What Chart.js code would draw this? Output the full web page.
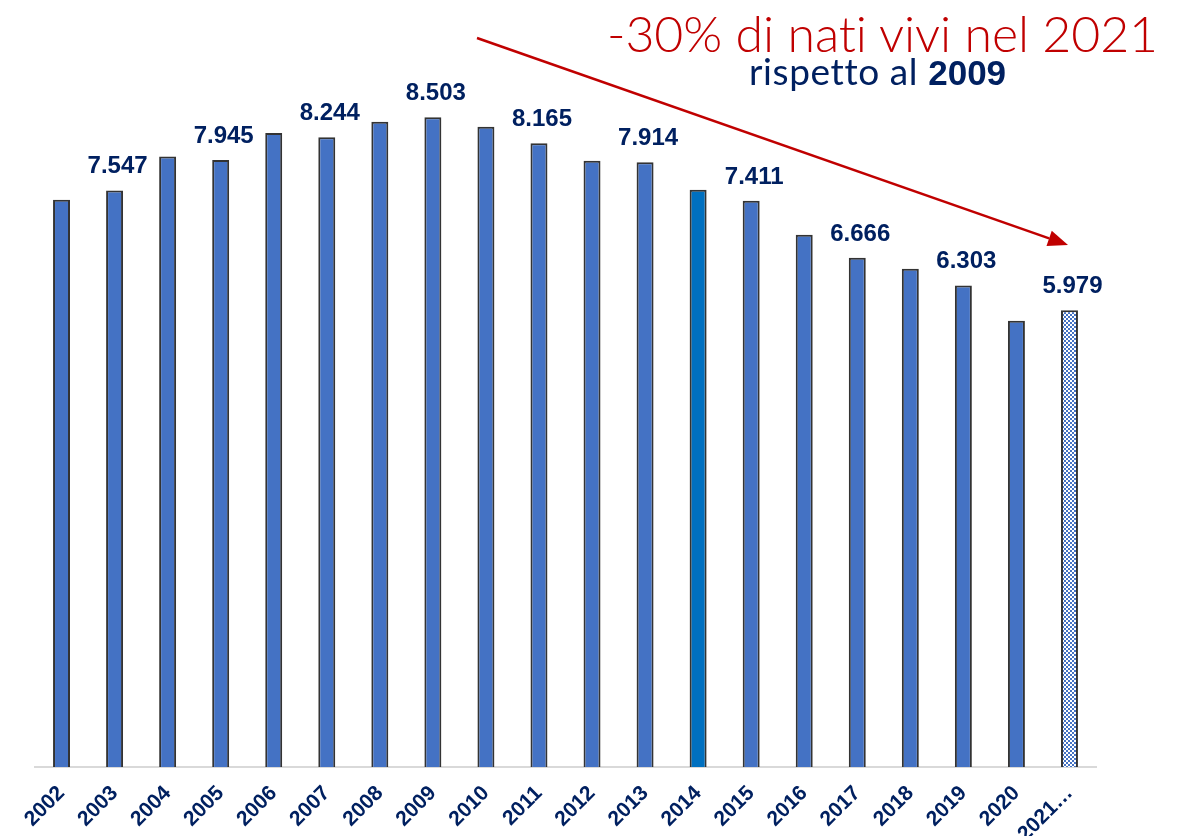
<!DOCTYPE html>
<html lang="it">
<head>
    <meta charset="UTF-8">
    <title>Nati vivi 2002-2021</title>
    <script src="https://cdn.jsdelivr.net/npm/chart.js"></script>
    <style>
        body {
            margin: 0;
            background: #ffffff;
        }
        .wrap {
            position: relative;
            width: 1181px;
            height: 836px;
        }
        .headline {
            position: absolute;
            font-family: "Lato", "DejaVu Sans", sans-serif;
            white-space: nowrap;
        }
        #title1 {
            top: 3px;
            left: 607px;
            font-size: 50px;
            font-weight: 300;
            color: #c00000;
            letter-spacing: -0.1px;
        }
        #title2 {
            top: 48px;
            left: 749px;
            font-size: 37px;
            font-weight: 400;
            color: #002060;
            letter-spacing: 0.6px;
        }
        #title2 b {
            font-family: "Liberation Sans", Arial, sans-serif;
            font-weight: 700;
            font-size: 35px;
            letter-spacing: 0;
        }
    </style>
</head>
<body>
<div class="wrap">
    <canvas id="births"></canvas>
    <div class="headline" id="title1">-30% di nati vivi nel 2021</div>
    <div class="headline" id="title2">rispetto al <b>2009</b></div>
</div>

<script>
    // years on the x axis (last one is cut in the original)
    const years = ['2002', '2003', '2004', '2005', '2006', '2007', '2008', '2009', '2010', '2011',
                   '2012', '2013', '2014', '2015', '2016', '2017', '2018', '2019', '2020', '2021…'];

    // nati vivi per anno (labelled ones are exact, the rest)
    const births = [7425, 7547, 7990, 7945, 8300, 8244, 8447, 8503, 8381, 8165,
                    7936, 7914, 7556, 7411, 6967, 6666, 6522, 6303, 5841, 5979];

    // which bars carry a value label
    const labelled = ['2003', '2005', '2007', '2009', '2011', '2013', '2015', '2017', '2019', '2021…'];

    const navy = '#002060';
    const barBlue = '#4472C4';

    // checkered fill for the 2021 (provisional) bar
    function checker() {
        const c = document.createElement('canvas');
        c.width = 4; c.height = 4;
        const g = c.getContext('2d');
        g.fillStyle = '#ffffff';
        g.fillRect(0, 0, 4, 4);
        g.fillStyle = barBlue;
        g.fillRect(0, 0, 2, 2);
        g.fillRect(2, 2, 2, 2);
        return g.createPattern(c, 'repeat');
    }

    const colors = years.map(y => {
        if (y === '2014') return '#0070C0';
        if (y === '2021…') return checker();
        return barBlue;
    });

    function fmt(v) {
        return String(v).replace(/\B(?=(\d{3})+(?!\d))/g, '.');
    }

    // value labels above the odd years
    const valueLabels = {
        id: 'valueLabels',
        afterDatasetsDraw(chart) {
            const ctx = chart.ctx;
            const meta = chart.getDatasetMeta(0);
            ctx.save();
            ctx.font = 'bold 24px "Liberation Sans", Arial, sans-serif';
            ctx.fillStyle = navy;
            ctx.textAlign = 'center';
            ctx.textBaseline = 'alphabetic';
            meta.data.forEach((bar, i) => {
                if (!labelled.includes(years[i])) return;
                ctx.fillText(fmt(births[i]), bar.x + 3, bar.y - 17);
            });
            ctx.restore();
        }
    };

    // red trend arrow from the top towards the 2021 bar
    const trendArrow = {
        id: 'trendArrow',
        afterDraw(chart) {
            const ctx = chart.ctx;
            const x0 = 477, y0 = 38, x1 = 1068, y1 = 245;
            const ang = Math.atan2(y1 - y0, x1 - x0);
            const head = 20, half = 8;
            ctx.save();
            ctx.strokeStyle = '#c00000';
            ctx.fillStyle = '#c00000';
            ctx.lineWidth = 2.5;
            ctx.beginPath();
            ctx.moveTo(x0, y0);
            ctx.lineTo(x1 - head * Math.cos(ang), y1 - head * Math.sin(ang));
            ctx.stroke();
            ctx.beginPath();
            ctx.moveTo(x1, y1);
            ctx.lineTo(x1 - head * Math.cos(ang) + half * Math.sin(ang), y1 - head * Math.sin(ang) - half * Math.cos(ang));
            ctx.lineTo(x1 - head * Math.cos(ang) - half * Math.sin(ang), y1 - head * Math.sin(ang) + half * Math.cos(ang));
            ctx.closePath();
            ctx.fill();
            ctx.restore();
        }
    };

    const canvas = document.getElementById('births');

    new Chart(canvas, {
        type: 'bar',
        data: {
            labels: years,
            datasets: [{
                label: 'Nati vivi',
                data: births,
                backgroundColor: colors,
                borderColor: '#333333',
                borderWidth: 2,
                borderSkipped: 'bottom',
                barPercentage: 0.32,
                categoryPercentage: 1
            }]
        },
        options: {
            responsive: true,
            maintainAspectRatio: false,
            animation: false,
            layout: {
                padding: { left: 35, right: 85, top: 3, bottom: 0 }
            },
            plugins: {
                legend: { display: false },
                tooltip: { enabled: false }
            },
            scales: {
                x: {
                    grid: { display: false, drawTicks: false },
                    border: { display: true, color: '#d9d9d9', width: 2 },
                    ticks: {
                        color: navy,
                        font: { family: '"Liberation Sans", Arial, sans-serif', size: 21, weight: 'bold' },
                        minRotation: 45,
                        maxRotation: 45,
                        autoSkip: false,
                        padding: 14
                    },
                    afterFit(scale) {
                        scale.height = 69;
                    }
                },
                y: {
                    display: false,
                    min: 0,
                    max: 10000
                }
            }
        },
        plugins: [valueLabels, trendArrow]
    });
</script>
</body>
</html>
